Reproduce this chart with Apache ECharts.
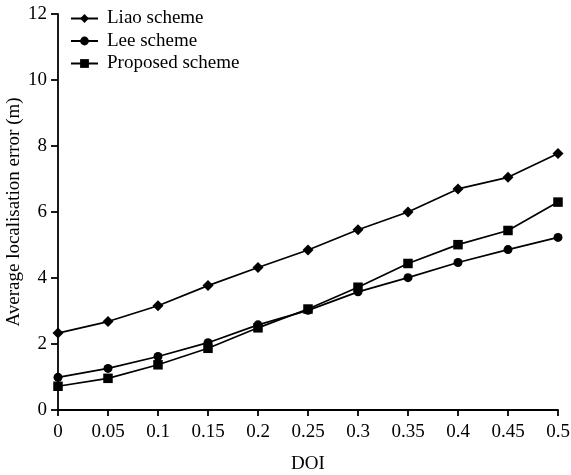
<!DOCTYPE html>
<html><head><meta charset="utf-8">
<script src="https://cdn.jsdelivr.net/npm/echarts@6/dist/echarts.min.js"></script>
<style>html,body{margin:0;padding:0;background:#fff}#c{width:571px;height:475px}</style>
</head><body><div id="c"></div>
<script>
const categories = ['0','0.05','0.1','0.15','0.2','0.25','0.3','0.35','0.4','0.45','0.5'];
const liao = [2.33, 2.68, 3.16, 3.77, 4.32, 4.85, 5.46, 6.0, 6.70, 7.05, 7.77];
const lee = [0.99, 1.26, 1.62, 2.04, 2.58, 3.02, 3.58, 4.01, 4.47, 4.86, 5.23];
const proposed = [0.72, 0.96, 1.37, 1.87, 2.49, 3.06, 3.72, 4.44, 5.01, 5.44, 6.30];
const yTicks = [0, 2, 4, 6, 8, 10, 12];

const font = 'Liberation Serif';
const fs = 19;
const chart = echarts.init(document.getElementById('c'));
const mk = (name, data, symbol, size) => ({
  name, type: 'line', data, symbol, symbolSize: size,
  lineStyle: {color: '#000', width: 1.7},
  itemStyle: {color: '#000'},
  animation: false
});
chart.setOption({
  animation: false,
  textStyle: {fontFamily: font, color: '#000'},
  grid: {left: 58, right: 13, top: 14, bottom: 65, containLabel: false, outerBoundsMode: 'none'},
  legend: {
    orient: 'vertical', left: 65, top: 4, itemGap: 3.5,
    itemWidth: 27, itemHeight: 11,
    textStyle: {fontFamily: font, fontSize: fs, color: '#000', padding: [0, 0, 0, 4]},
    data: ['Liao scheme', 'Lee scheme', 'Proposed scheme']
  },
  xAxis: {
    type: 'category', data: categories, boundaryGap: false,
    name: 'DOI', nameLocation: 'middle', nameGap: 45, nameMoveOverlap: false,
    nameTextStyle: {fontFamily: font, fontSize: fs, color: '#000'},
    axisLine: {lineStyle: {color: '#000', width: 1.8}},
    axisTick: {show: true, length: 6, lineStyle: {color: '#000', width: 1.8}},
    axisLabel: {fontFamily: font, fontSize: fs, color: '#000', margin: 13},
    splitLine: {show: false}
  },
  yAxis: {
    type: 'value', min: yTicks[0], max: yTicks[yTicks.length-1], interval: 2,
    name: 'Average localisation error (m)', nameLocation: 'middle', nameGap: 34, nameMoveOverlap: false,
    nameTextStyle: {fontFamily: font, fontSize: fs, color: '#000'},
    axisLine: {show: true, lineStyle: {color: '#000', width: 1.8}},
    axisTick: {show: true, length: 7, lineStyle: {color: '#000', width: 1.8}},
    axisLabel: {fontFamily: font, fontSize: fs, color: '#000', margin: 11},
    splitLine: {show: false}
  },
  series: [
    mk('Liao scheme', liao, 'diamond', 11),
    mk('Lee scheme', lee, 'circle', 9),
    mk('Proposed scheme', proposed, 'rect', 9.5)
  ]
});
</script></body></html>
